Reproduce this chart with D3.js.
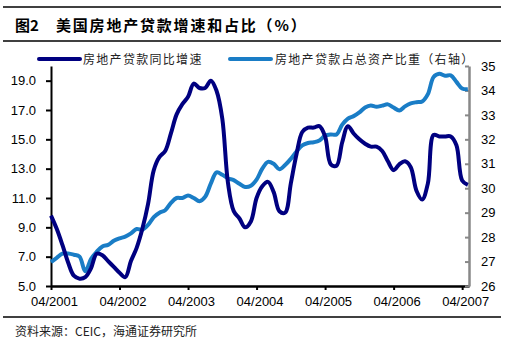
<!DOCTYPE html>
<html><head><meta charset="utf-8">
<script src="https://cdn.jsdelivr.net/npm/d3@7"></script>
<style>
html,body{margin:0;padding:0;background:#fff;}
svg{display:block;}
</style></head>
<body>
<svg id="chart" width="509" height="347"></svg>
<script>
// ---- data ----
const startYear = 2001, startMonth = 4; // first observation 04/2001, monthly
const loanGrowth = [9.8,8.9,7.8,6.6,5.7,5.5,5.6,6.2,7.2,7.1,6.7,6.3,5.9,5.6,6.7,7.6,8.9,10.6,12.9,13.8,
  14.2,15.4,16.7,17.4,17.9,18.8,18.5,18.5,19.0,18.3,16.4,12.0,10.1,9.6,9.0,9.4,11.0,11.8,12.1,11.4,
  10.1,10.0,12.0,14.0,15.5,15.8,15.8,15.9,15.2,13.3,13.2,14.8,15.9,15.4,15.0,14.7,14.5,14.5,14.2,13.5,
  12.9,13.3,13.5,13.1,11.5,10.9,12.0,15.3,15.2,15.2,15.2,14.6,12.2,11.9];
const loanShare = [26.98,27.15,27.32,27.33,27.28,27.2,26.6,27.1,27.4,27.62,27.68,27.85,27.95,28.02,28.15,28.33,28.3,28.5,28.82,29.0,
  29.1,29.4,29.6,29.6,29.7,29.6,29.47,29.65,30.2,30.65,30.55,30.4,30.33,30.18,30.05,30.1,30.35,30.8,31.08,31.0,
  30.78,30.95,31.2,31.5,31.75,31.85,31.88,31.95,32.15,32.2,32.2,32.6,32.85,32.95,33.1,33.3,33.38,33.33,33.38,33.43,
  33.3,33.18,33.35,33.47,33.52,33.55,33.85,34.55,34.68,34.6,34.62,34.35,34.08,34.05];
const xTickMonths = [0,12,24,36,48,60,72];
const xTickLabels = ["04/2001","04/2002","04/2003","04/2004","04/2005","04/2006","04/2007"];
const leftTicks = [5,7,9,11,13,15,17,19];
const rightTicks = [26,27,28,29,30,31,32,33,34,35];
const seriesNames = ["房地产贷款同比增速","房地产贷款占总资产比重（右轴）"];
const titleNum = "图2";
const titleText = "美国房地产贷款增速和占比（%）";
const sourceText = "资料来源：CEIC，海通证券研究所";

// ---- styles ----
const darkColor = "#000080", lightColor = "#1a7dc6";
const cnFont = "'Noto Sans CJK SC', sans-serif";
const numFont = "'Liberation Sans', Arial, sans-serif";

const svg = d3.select("#chart");

// rules
[7, 41, 317].forEach(y => svg.append("line").attr("x1",3).attr("x2",501).attr("y1",y).attr("y2",y)
  .attr("stroke","#000").attr("stroke-width",1.3));

// title
svg.append("text").attr("x",15).attr("y",31).attr("font-family",cnFont).attr("font-weight","bold")
  .attr("font-size",15).text(titleNum);
svg.append("text").attr("x",56).attr("y",31).attr("font-family",cnFont).attr("font-weight","bold")
  .attr("font-size",15).attr("letter-spacing",1.8).text(titleText);

// source
svg.append("text").attr("x",15).attr("y",336).attr("font-family",cnFont)
  .attr("font-size",12).attr("fill","#222").text(sourceText);

// scales
const x = d3.scaleLinear().domain([0, 73.2]).range([51, 469]);
const yL = d3.scaleLinear().domain([5, 20]).range([286, 66]);
const yR = d3.scaleLinear().domain([26, 35]).range([286, 66]);

// x axis
const xAxis = d3.axisBottom(x).tickValues(xTickMonths).tickFormat((d,i)=>xTickLabels[i])
  .tickSize(4).tickSizeOuter(0);
const gx = svg.append("g").attr("transform","translate(0,286)").call(xAxis);
gx.select(".domain").attr("stroke","#000").attr("stroke-width",2.5);
gx.selectAll(".tick line").attr("stroke","#000").attr("stroke-width",2);
gx.selectAll(".tick text").attr("font-family",numFont).attr("font-size",13).attr("fill","#000")
  .attr("dx",3).attr("y",11).attr("dy","0.71em");

// left axis
const yAxisL = d3.axisLeft(yL).tickValues(leftTicks).tickFormat(d3.format(".1f")).tickSize(5).tickSizeOuter(0);
const gl = svg.append("g").attr("transform","translate(51,0)").call(yAxisL);
gl.select(".domain").attr("stroke","#000").attr("stroke-width",2);
gl.selectAll(".tick line").attr("stroke","#000").attr("stroke-width",2);
gl.selectAll(".tick text").attr("font-family",numFont).attr("font-size",13).attr("fill","#000").attr("x",-15);

// right axis (ticks inward)
const yAxisR = d3.axisRight(yR).tickValues(rightTicks).tickSize(-4).tickSizeOuter(0);
const gr = svg.append("g").attr("transform","translate(469,0)").call(yAxisR);
gr.select(".domain").attr("stroke","#888").attr("stroke-width",2.5);
gr.selectAll(".tick line").attr("stroke","#888").attr("stroke-width",2);
gr.selectAll(".tick text").attr("font-family",numFont).attr("font-size",13).attr("fill","#000").attr("x",12);

// lines
const lineL = d3.line().x((d,i)=>x(i)).y(d=>yL(d)).curve(d3.curveCatmullRom.alpha(0.5));
const lineR = d3.line().x((d,i)=>x(i)).y(d=>yR(d)).curve(d3.curveCatmullRom.alpha(0.5));
svg.append("path").datum(loanShare).attr("d",lineR).attr("fill","none")
  .attr("stroke",lightColor).attr("stroke-width",4).attr("stroke-linejoin","round");
svg.append("path").datum(loanGrowth).attr("d",lineL).attr("fill","none")
  .attr("stroke",darkColor).attr("stroke-width",4).attr("stroke-linejoin","round");

// legend
const legend = [
  {name: seriesNames[0], color: darkColor, x1: 39, x2: 80, tx: 83},
  {name: seriesNames[1], color: lightColor, x1: 230, x2: 271, tx: 275}
];
legend.forEach(l => {
  svg.append("line").attr("x1",l.x1).attr("x2",l.x2).attr("y1",59).attr("y2",59)
    .attr("stroke",l.color).attr("stroke-width",4).attr("stroke-linecap","round");
  svg.append("text").attr("x",l.tx).attr("y",63.5).attr("font-family",cnFont).attr("font-size",12)
    .attr("letter-spacing",1.3).attr("fill","#222").text(l.name);
});
</script>
</body></html>
